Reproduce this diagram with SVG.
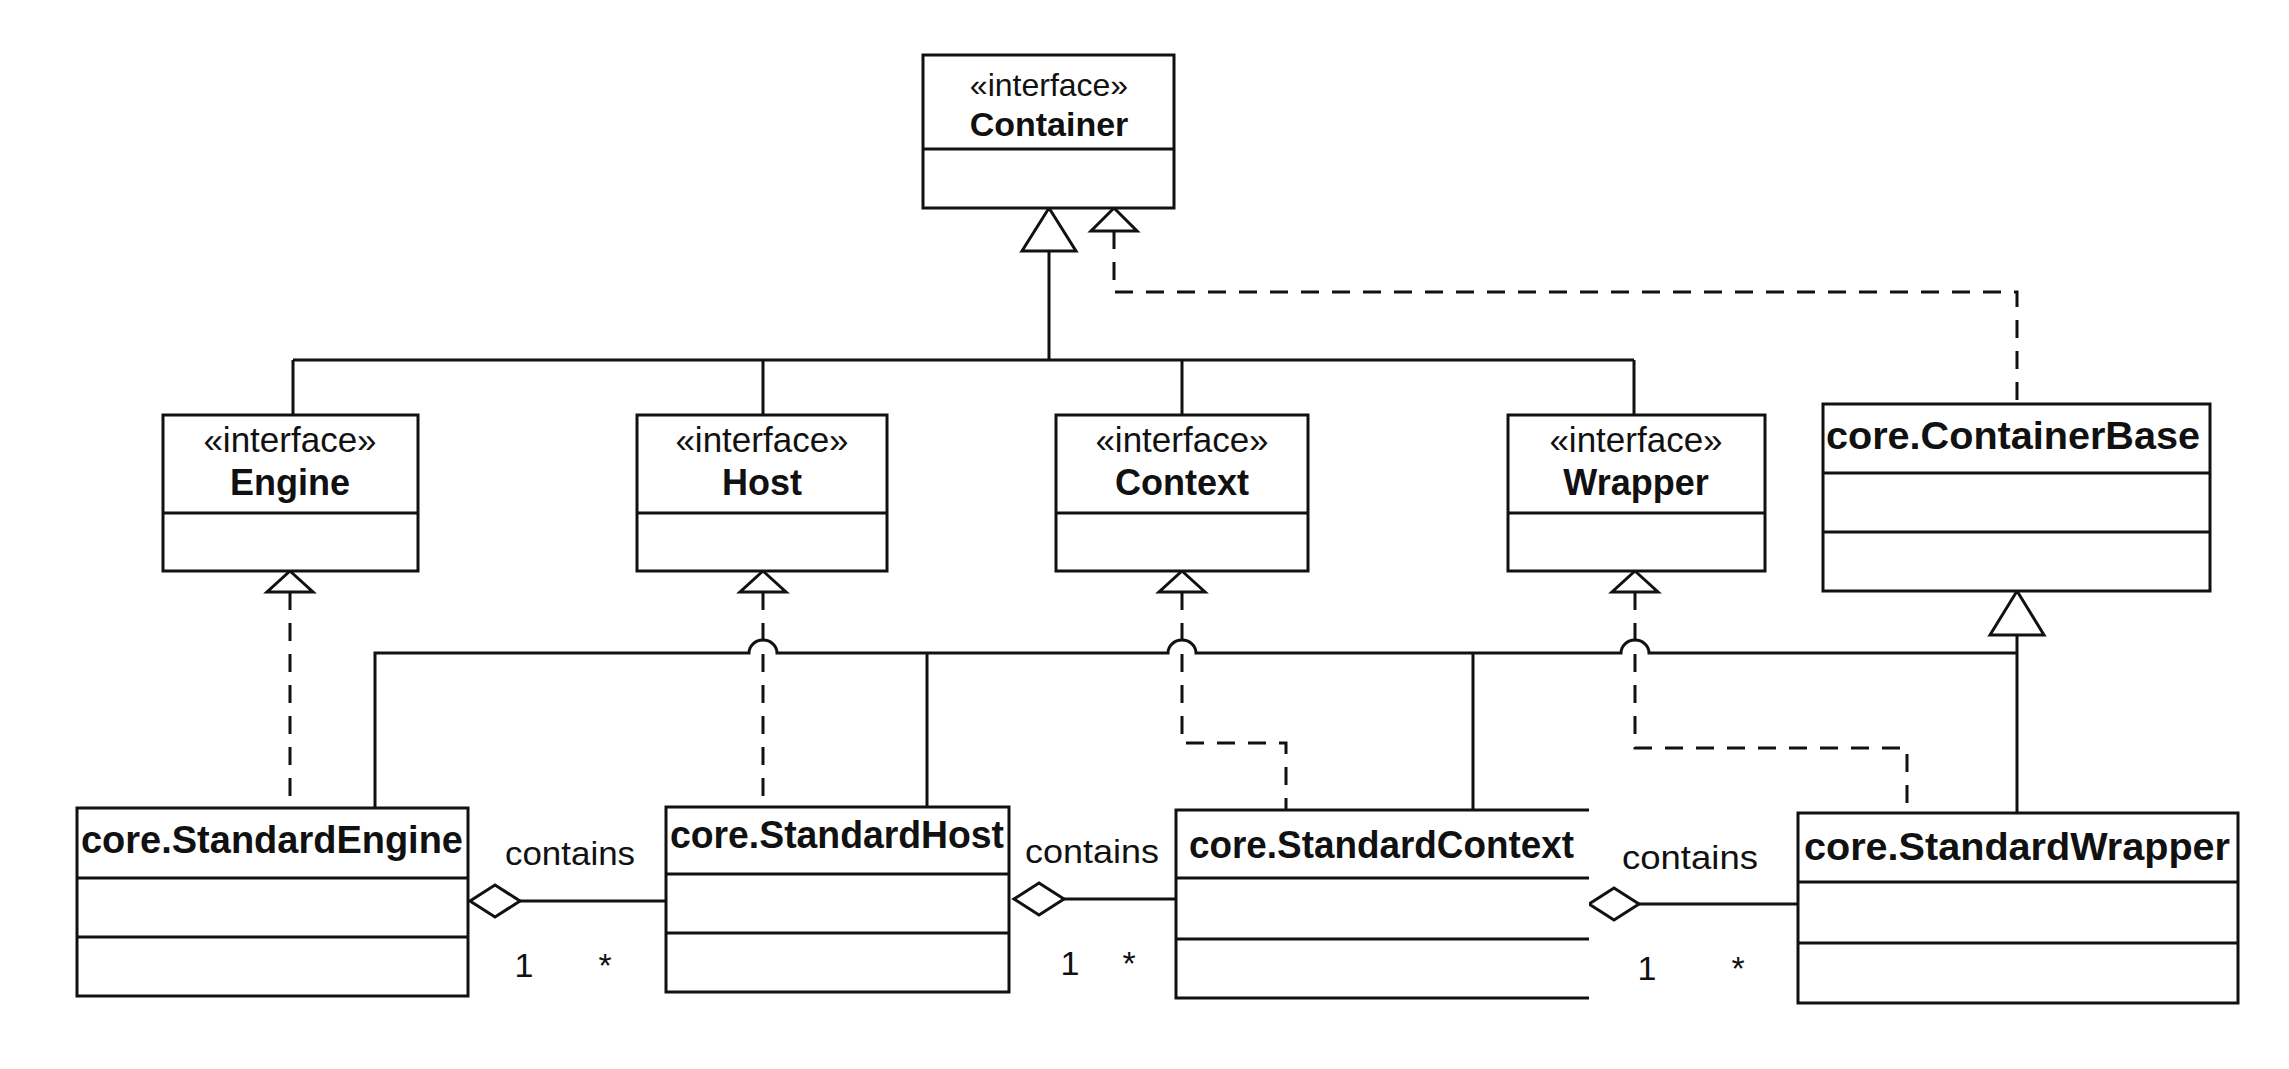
<svg xmlns="http://www.w3.org/2000/svg" width="2289" height="1069" viewBox="0 0 2289 1069">
<style>
.box{fill:#fff;stroke:#111;stroke-width:3}
.div{stroke:#111;stroke-width:3;fill:none}
.st{font-family:"Liberation Sans",Arial,sans-serif;font-size:35px;fill:#111;text-anchor:middle}
.nm{font-family:"Liberation Sans",Arial,sans-serif;font-size:36px;font-weight:bold;fill:#111;text-anchor:middle}
.cn{font-family:"Liberation Sans",Arial,sans-serif;font-size:38px;font-weight:bold;fill:#111}
.lbl{font-family:"Liberation Sans",Arial,sans-serif;font-size:33px;fill:#111}
.mul{font-family:"Liberation Sans",Arial,sans-serif;font-size:34px;fill:#111;text-anchor:middle}
.ln{fill:none;stroke:#111;stroke-width:3}
.dash{fill:none;stroke:#111;stroke-width:3;stroke-dasharray:18 13}
.tri{fill:#fff;stroke:#111;stroke-width:3;stroke-linejoin:miter}
</style>
<rect width="2289" height="1069" fill="#fff"/>

<g id="connectors">
  <!-- generalization Engine/Host/Context/Wrapper -> Container -->
  <path class="ln" d="M1049 251 V360 M293 360 H1634 M293 360 V415 M763 360 V415 M1182 360 V415 M1634 360 V415"/>
  <polygon class="tri" points="1049,208 1076,251 1022,251"/>
  <!-- realization ContainerBase -> Container -->
  <path class="dash" d="M1114 231 V292 H2017 V404"/>
  <polygon class="tri" points="1114,208 1137,231 1091,231"/>
  <!-- generalization Standard* -> ContainerBase -->
  <path class="ln" d="M2017 635 V813 M375 808 V653 H749 A14 13 0 0 1 777 653 H1168 A14 13 0 0 1 1196 653 H1621 A14 13 0 0 1 1649 653 H2017 M927 653 V807 M1473 653 V810"/>
  <polygon class="tri" points="2017,591 2044,635 1990,635"/>
  <!-- realizations to interfaces -->
  <path class="dash" d="M290 592 V808"/>
  <polygon class="tri" points="290,571 313,592 267,592"/>
  <path class="dash" d="M763 592 V807"/>
  <polygon class="tri" points="763,571 786,592 740,592"/>
  <path class="dash" d="M1182 592 V743 H1286 V810"/>
  <polygon class="tri" points="1182,571 1205,592 1159,592"/>
  <path class="dash" d="M1635 592 V748 H1907 V813"/>
  <polygon class="tri" points="1635,571 1658,592 1612,592"/>
  <!-- aggregations -->
  <path class="ln" d="M520 901 H666"/>
  <polygon class="tri" points="470,901 495,885 520,901 495,917"/>
  <text class="lbl" x="505" y="865" textLength="130" lengthAdjust="spacingAndGlyphs">contains</text>
  <text class="mul" x="524" y="977">1</text>
  <text class="mul" x="605" y="977">*</text>
  <path class="ln" d="M1064 899 H1176"/>
  <polygon class="tri" points="1014,899 1039,883 1064,899 1039,915"/>
  <text class="lbl" x="1025" y="863" textLength="134" lengthAdjust="spacingAndGlyphs">contains</text>
  <text class="mul" x="1070" y="975">1</text>
  <text class="mul" x="1129" y="975">*</text>
  <path class="ln" d="M1639 904 H1798"/>
  <polygon class="tri" points="1589,904 1614,888 1639,904 1614,920"/>
  <text class="lbl" x="1622" y="869" textLength="136" lengthAdjust="spacingAndGlyphs">contains</text>
  <text class="mul" x="1647" y="980">1</text>
  <text class="mul" x="1738" y="980">*</text>
</g>

<g id="Container">
  <rect class="box" x="923" y="55" width="251" height="153"/>
  <path class="div" d="M923 149 H1174"/>
  <text class="st" x="1049" y="96" style="font-size:32px">«interface»</text>
  <text class="nm" x="1049" y="136" style="font-size:34px">Container</text>
</g>

<g id="Engine">
  <rect class="box" x="163" y="415" width="255" height="156"/>
  <path class="div" d="M163 513 H418"/>
  <text class="st" x="290" y="452">«interface»</text>
  <text class="nm" x="290" y="495">Engine</text>
</g>
<g id="Host">
  <rect class="box" x="637" y="415" width="250" height="156"/>
  <path class="div" d="M637 513 H887"/>
  <text class="st" x="762" y="452">«interface»</text>
  <text class="nm" x="762" y="495">Host</text>
</g>
<g id="Context">
  <rect class="box" x="1056" y="415" width="252" height="156"/>
  <path class="div" d="M1056 513 H1308"/>
  <text class="st" x="1182" y="452">«interface»</text>
  <text class="nm" x="1182" y="495">Context</text>
</g>
<g id="Wrapper">
  <rect class="box" x="1508" y="415" width="257" height="156"/>
  <path class="div" d="M1508 513 H1765"/>
  <text class="st" x="1636" y="452">«interface»</text>
  <text class="nm" x="1636" y="495">Wrapper</text>
</g>
<g id="ContainerBase">
  <rect class="box" x="1823" y="404" width="387" height="187"/>
  <path class="div" d="M1823 473 H2210 M1823 532 H2210"/>
  <text class="cn" x="1826" y="449" textLength="374" lengthAdjust="spacingAndGlyphs">core.ContainerBase</text>
</g>

<g id="StandardEngine">
  <rect class="box" x="77" y="808" width="391" height="188"/>
  <path class="div" d="M77 878 H468 M77 937 H468"/>
  <text class="cn" x="81" y="853" textLength="382" lengthAdjust="spacingAndGlyphs">core.StandardEngine</text>
</g>
<g id="StandardHost">
  <rect class="box" x="666" y="807" width="343" height="185"/>
  <path class="div" d="M666 874 H1009 M666 933 H1009"/>
  <text class="cn" x="670" y="848" textLength="334" lengthAdjust="spacingAndGlyphs">core.StandardHost</text>
</g>
<g id="StandardContext">
  <path class="box" d="M1589 810 H1176 V998 H1589"/>
  <path class="div" d="M1176 878 H1589 M1176 939 H1589"/>
  <text class="cn" x="1189" y="858" textLength="385" lengthAdjust="spacingAndGlyphs">core.StandardContext</text>
</g>
<g id="StandardWrapper">
  <rect class="box" x="1798" y="813" width="440" height="190"/>
  <path class="div" d="M1798 882 H2238 M1798 943 H2238"/>
  <text class="cn" x="1804" y="860" textLength="426" lengthAdjust="spacingAndGlyphs">core.StandardWrapper</text>
</g>
</svg>
